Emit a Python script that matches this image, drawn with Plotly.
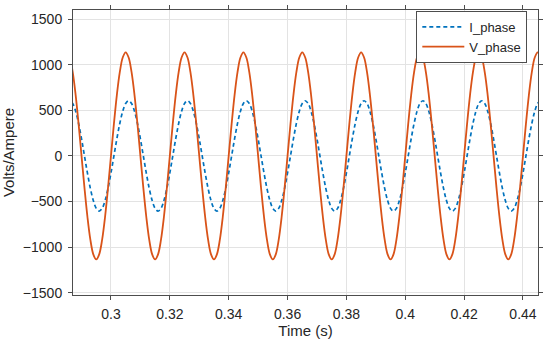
import plotly.graph_objects as go

# time samples (s), every 1 ms
time_s = [
    0.285, 0.286, 0.287, 0.288, 0.289, 0.290, 0.291, 0.292, 0.293, 0.294,
    0.295, 0.296, 0.297, 0.298, 0.299, 0.300, 0.301, 0.302, 0.303, 0.304,
    0.305, 0.306, 0.307, 0.308, 0.309, 0.310, 0.311, 0.312, 0.313, 0.314,
    0.315, 0.316, 0.317, 0.318, 0.319, 0.320, 0.321, 0.322, 0.323, 0.324,
    0.325, 0.326, 0.327, 0.328, 0.329, 0.330, 0.331, 0.332, 0.333, 0.334,
    0.335, 0.336, 0.337, 0.338, 0.339, 0.340, 0.341, 0.342, 0.343, 0.344,
    0.345, 0.346, 0.347, 0.348, 0.349, 0.350, 0.351, 0.352, 0.353, 0.354,
    0.355, 0.356, 0.357, 0.358, 0.359, 0.360, 0.361, 0.362, 0.363, 0.364,
    0.365, 0.366, 0.367, 0.368, 0.369, 0.370, 0.371, 0.372, 0.373, 0.374,
    0.375, 0.376, 0.377, 0.378, 0.379, 0.380, 0.381, 0.382, 0.383, 0.384,
    0.385, 0.386, 0.387, 0.388, 0.389, 0.390, 0.391, 0.392, 0.393, 0.394,
    0.395, 0.396, 0.397, 0.398, 0.399, 0.400, 0.401, 0.402, 0.403, 0.404,
    0.405, 0.406, 0.407, 0.408, 0.409, 0.410, 0.411, 0.412, 0.413, 0.414,
    0.415, 0.416, 0.417, 0.418, 0.419, 0.420, 0.421, 0.422, 0.423, 0.424,
    0.425, 0.426, 0.427, 0.428, 0.429, 0.430, 0.431, 0.432, 0.433, 0.434,
    0.435, 0.436, 0.437, 0.438, 0.439, 0.440, 0.441, 0.442, 0.443, 0.444,
    0.445, 0.446,
]

# V_phase readings (V), one row per 20 ms cycle
v_phase = [
    1135, 1079, 918, 667, 351, 0, -351, -667, -918, -1079, -1135, -1079, -918, -667, -351, 0, 351, 667, 918, 1079,
    1135, 1079, 918, 667, 351, 0, -351, -667, -918, -1079, -1135, -1079, -918, -667, -351, 0, 351, 667, 918, 1079,
    1135, 1079, 918, 667, 351, 0, -351, -667, -918, -1079, -1135, -1079, -918, -667, -351, 0, 351, 667, 918, 1079,
    1135, 1079, 918, 667, 351, 0, -351, -667, -918, -1079, -1135, -1079, -918, -667, -351, 0, 351, 667, 918, 1079,
    1135, 1079, 918, 667, 351, 0, -351, -667, -918, -1079, -1135, -1079, -918, -667, -351, 0, 351, 667, 918, 1079,
    1135, 1079, 918, 667, 351, 0, -351, -667, -918, -1079, -1135, -1079, -918, -667, -351, 0, 351, 667, 918, 1079,
    1135, 1079, 918, 667, 351, 0, -351, -667, -918, -1079, -1135, -1079, -918, -667, -351, 0, 351, 667, 918, 1079,
    1135, 1079, 918, 667, 351, 0, -351, -667, -918, -1079, -1135, -1079, -918, -667, -351, 0, 351, 667, 918, 1079,
    1135, 1079,
]

# I_phase readings (A), one row per 20 ms cycle
i_phase = [
    575, 605, 575, 489, 356, 187, 0, -187, -356, -489, -575, -605, -575, -489, -356, -187, 0, 187, 356, 489,
    575, 605, 575, 489, 356, 187, 0, -187, -356, -489, -575, -605, -575, -489, -356, -187, 0, 187, 356, 489,
    575, 605, 575, 489, 356, 187, 0, -187, -356, -489, -575, -605, -575, -489, -356, -187, 0, 187, 356, 489,
    575, 605, 575, 489, 356, 187, 0, -187, -356, -489, -575, -605, -575, -489, -356, -187, 0, 187, 356, 489,
    575, 605, 575, 489, 356, 187, 0, -187, -356, -489, -575, -605, -575, -489, -356, -187, 0, 187, 356, 489,
    575, 605, 575, 489, 356, 187, 0, -187, -356, -489, -575, -605, -575, -489, -356, -187, 0, 187, 356, 489,
    575, 605, 575, 489, 356, 187, 0, -187, -356, -489, -575, -605, -575, -489, -356, -187, 0, 187, 356, 489,
    575, 605, 575, 489, 356, 187, 0, -187, -356, -489, -575, -605, -575, -489, -356, -187, 0, 187, 356, 489,
    575, 605,
]

x_ticks = [0.30, 0.32, 0.34, 0.36, 0.38, 0.40, 0.42, 0.44]
x_tick_labels = ["0.3", "0.32", "0.34", "0.36", "0.38", "0.4", "0.42", "0.44"]
y_ticks = [-1500, -1000, -500, 0, 500, 1000, 1500]

FONT = "Liberation Sans, Arial, Helvetica, sans-serif"
AX = "#4d4d4d"

fig = go.Figure()
fig.add_trace(go.Scatter(x=time_s, y=i_phase, mode="lines", name="I_phase",
                         line=dict(color="#0072BD", width=1.7, dash="4px,3px", shape="spline")))
fig.add_trace(go.Scatter(x=time_s, y=v_phase, mode="lines", name="V_phase",
                         line=dict(color="#D95319", width=1.8, shape="spline")))

fig.update_layout(
    width=550, height=345,
    margin=dict(l=73, r=12, t=10, b=50, autoexpand=False),
    paper_bgcolor="white", plot_bgcolor="white",
    font=dict(family=FONT, size=14, color="#262626"),
    showlegend=True,
    legend=dict(x=0.977, y=0.997, xanchor="right", yanchor="top",
                bgcolor="white", bordercolor=AX, borderwidth=1,
                font=dict(size=13), tracegroupgap=0, itemwidth=42),
    xaxis=dict(range=[0.2871, 0.4451], tickvals=x_ticks, ticktext=x_tick_labels,
               automargin=False,
               showgrid=True, gridcolor="#e3e3e3", gridwidth=1,
               showline=True, linecolor=AX, linewidth=1, mirror="ticks",
               ticks="outside", ticklen=4, tickcolor=AX, ticklabelstandoff=2,
               zeroline=False,
               title=dict(text="Time (s)", standoff=2, font=dict(size=15))),
    yaxis=dict(range=[-1525, 1600], tickvals=y_ticks,
               automargin=False,
               showgrid=True, gridcolor="#e3e3e3", gridwidth=1,
               showline=True, linecolor=AX, linewidth=1, mirror="ticks",
               ticks="outside", ticklen=4, tickcolor=AX, ticklabelstandoff=3,
               zeroline=False,
               title=dict(text="Volts/Ampere", standoff=4, font=dict(size=15))),
)

fig.write_html("out.html",
               config={"displayModeBar": False},
               post_script="document.body.style.margin='0';document.body.style.overflow='hidden';")
